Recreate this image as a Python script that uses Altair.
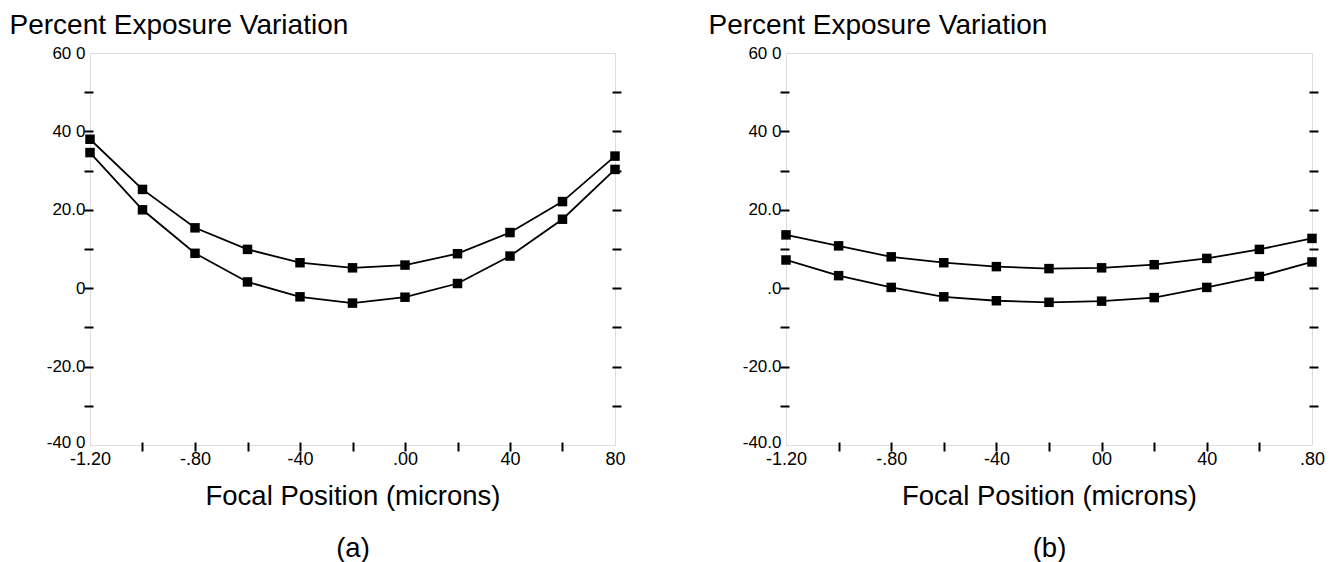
import altair as alt
import pandas as pd

# ---- data ----
focal = [-1.2, -1.0, -0.8, -0.6, -0.4, -0.2, 0.0, 0.2, 0.4, 0.6, 0.8]
a_upper = [38.0, 25.2, 15.4, 9.9, 6.5, 5.2, 5.9, 8.8, 14.2, 22.1, 33.7]
a_lower = [34.6, 20.0, 8.9, 1.6, -2.2, -3.8, -2.3, 1.2, 8.2, 17.6, 30.3]
b_upper = [13.6, 10.8, 8.0, 6.5, 5.5, 5.0, 5.2, 6.0, 7.6, 9.9, 12.7]
b_lower = [7.2, 3.2, 0.2, -2.2, -3.2, -3.6, -3.3, -2.4, 0.2, 3.0, 6.7]

x_label_values = [-1.2, -0.8, -0.4, 0.0, 0.4, 0.8]
a_x_labels = ["-1.20", "-.80", "-40", ".00", "40", "80"]
b_x_labels = ["-1.20", "-.80", "-40", "00", "40", ".80"]
x_tick_values = [-1.0, -0.8, -0.6, -0.4, -0.2, 0.0, 0.2, 0.4, 0.6]

y_label_values = [-40, -20, 0, 20, 40, 60]
a_y_labels = ["-40 0", "-20.0", "0", "20.0", "40 0", "60 0"]
b_y_labels = ["-40.0", "-20.0", ".0", "20.0", "40 0", "60 0"]
y_tick_values = [-30, -20, -10, 0, 10, 20, 30, 40, 50]

y_title = "Percent Exposure Variation"
x_title = "Focal Position (microns)"

FONT = "Liberation Sans"
TICK_OUT = 6
TICK_IN = 3


def label_expr(values, labels):
    expr = "''"
    for v, l in reversed(list(zip(values, labels))):
        expr = f"abs(datum.value - ({v})) < 0.001 ? '{l}' : " + expr
    return expr


def tick_axis(orient, values):
    # one set of ticks crossing the frame: shifted inward by TICK_IN
    return alt.Axis(orient=orient, values=values, labels=False, domain=False,
                    grid=False, ticks=True, tickSize=TICK_OUT + TICK_IN, tickWidth=2,
                    tickColor="black", title=None, offset=-TICK_IN, zindex=1)


def panel(upper, lower, x_labels, y_labels, tag, width, height, title_x):
    df = pd.DataFrame({
        "focal": focal + focal,
        "pct": upper + lower,
        "series": ["upper"] * len(focal) + ["lower"] * len(focal),
    })
    xs = alt.Scale(domain=[-1.2, 0.8], nice=False, zero=False)
    ys = alt.Scale(domain=[-40, 60], nice=False, zero=False)
    base = alt.Chart(df)

    line = base.mark_line(color="black", strokeWidth=1.8).encode(
        x=alt.X("focal:Q", scale=xs, axis=alt.Axis(
            orient="bottom", values=x_label_values, labelExpr=label_expr(x_label_values, x_labels),
            ticks=False, tickSize=0, labelPadding=5, labelFontSize=18,
            labelFlush=False, labelOverlap=False, domain=False, grid=False,
            title=[x_title, tag], titleFontSize=27.5, titleFontWeight="normal",
            titleLineHeight=52, titleX=width / 2, titleY=59, titleAlign="center",
            titleBaseline="alphabetic")),
        y=alt.Y("pct:Q", scale=ys, axis=alt.Axis(
            orient="left", values=y_label_values, labelExpr=label_expr(y_label_values, y_labels),
            ticks=False, tickSize=0, labelPadding=5, labelFontSize=17,
            labelBaseline={"condition": {"test": "datum.value < -39", "value": "alphabetic"},
                           "value": "middle"},
            labelOffset={"condition": {"test": "datum.value < -39", "value": 2},
                         "value": 0},
            labelOverlap=False, domain=False, grid=False,
            title=y_title, titleAngle=0, titleX=title_x, titleY=-20, titleAlign="left",
            titleBaseline="alphabetic", titleFontSize=28, titleFontWeight="normal")),
        detail="series:N",
    )
    pts = base.mark_square(size=90, color="black", opacity=1).encode(
        x=alt.X("focal:Q", scale=xs, axis=tick_axis("bottom", x_tick_values)),
        y=alt.Y("pct:Q", scale=ys, axis=tick_axis("left", y_tick_values)),
    )
    right = base.mark_point(opacity=0).encode(
        x=alt.X("focal:Q", scale=xs, axis=None),
        y=alt.Y("pct:Q", scale=ys, axis=tick_axis("right", y_tick_values)),
    )
    return alt.layer(line, pts, right).resolve_axis(
        x="independent", y="independent"
    ).properties(width=width, height=height)


panel_a = panel(a_upper, a_lower, a_x_labels, a_y_labels, "(a)", 525, 392, -81)
panel_b = panel(b_upper, b_lower, b_x_labels, b_y_labels, "(b)", 526, 392, -78)

chart = alt.hconcat(panel_a, panel_b, spacing=81).properties(
    padding={"left": 0, "top": 2, "right": 0, "bottom": 0}
).configure_view(
    stroke="black", strokeWidth=2
).configure_axis(
    labelFont=FONT, titleFont=FONT, labelColor="black", titleColor="black"
).configure(background="white")

chart.save("out.html", embed_options={"renderer": "svg", "actions": False})
